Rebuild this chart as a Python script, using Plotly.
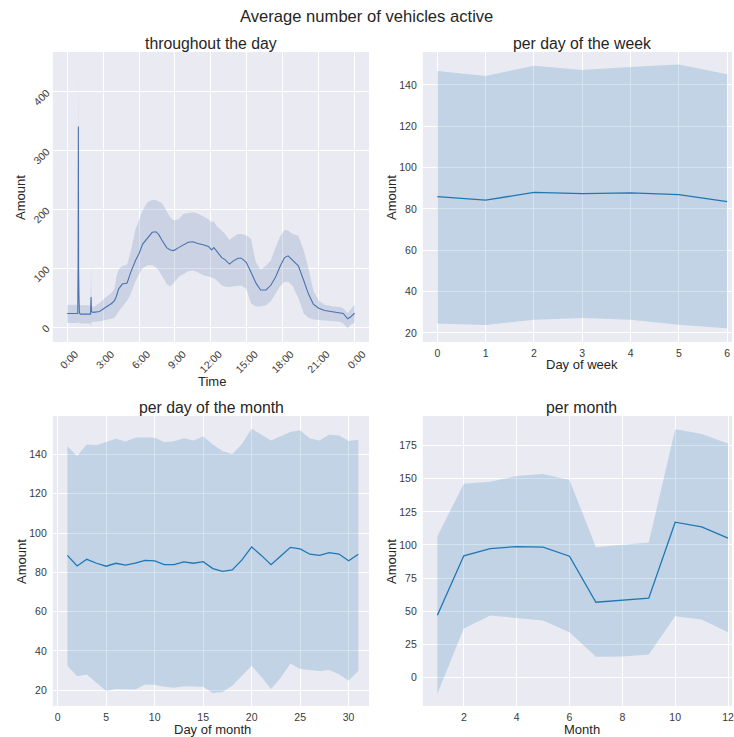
import plotly.graph_objects as go

# ---------------- data ----------------
# throughout the day (hours since midnight)
day_hours = [0.00, 0.50, 0.88, 0.91, 0.93, 0.95, 0.98, 1.02, 1.10, 1.50, 1.95, 1.99, 2.03, 2.20,
             2.70, 3.25, 3.70, 3.95, 4.10, 4.30, 4.60, 5.00, 5.30, 5.70, 6.00, 6.30, 6.70, 7.10,
             7.40, 7.65, 7.90, 8.30, 8.60, 8.90, 9.30, 9.70, 10.10, 10.50, 10.90, 11.35, 11.80,
             12.05, 12.25, 12.45, 12.90, 13.15, 13.55, 13.85, 14.25, 14.55, 14.95, 15.35, 15.75,
             16.15, 16.60, 17.00, 17.40, 17.80, 18.15, 18.45, 18.80, 19.30, 19.75, 20.15, 20.55,
             21.00, 21.50, 22.20, 22.75, 23.05, 23.42, 23.65, 24.00]
day_mean = [23, 23, 23, 120, 341, 100, 50, 24, 22, 21.5, 22, 51, 26, 25,
            26.5, 34, 40, 45, 52, 65, 73, 75, 93, 113, 125, 141, 152, 161,
            162, 157, 148, 135, 131, 130, 135, 140, 144, 145, 142, 140, 137,
            131, 135, 130, 118, 115, 107, 112, 117, 117, 110, 93, 75,
            63, 63, 71, 85, 104, 118, 121, 114, 104, 79, 56, 39,
            32, 28, 25.5, 24.5, 23, 14, 17, 23.5]
day_upper = [38, 38, 38, 300, 443, 200, 70, 38, 37, 37, 37, 104, 36, 34,
             41, 51, 58, 66, 85, 98, 104, 106, 128, 166, 183, 198, 212, 216,
             216, 213, 211, 197, 186, 181, 183, 192, 193, 195, 193, 188, 183,
             178, 180, 172, 164, 159, 148, 153, 158, 158, 156, 150, 110,
             98, 104, 113, 135, 155, 165, 164, 158, 155, 130, 99, 62,
             45, 38, 35, 34, 32, 24, 30, 38]
day_lower = [7, 7, 7, 7, 8, 10, 8, 6, 6, 6, 6, -3, 8, 9,
             10, 12, 14, 16, 20, 27, 34, 45, 56, 78, 90, 100, 105, 105,
             101, 96, 86, 73, 69, 75, 85, 90, 95, 96, 93, 88, 86,
             84, 83, 80, 71, 69, 68, 69, 70, 70, 65, 40, 35,
             35, 37, 44, 56, 70, 77, 77, 70, 50, 23, 16, 13,
             12, 11, 10, 9, 6, -3, 4, 7]
day_tickvals = [0, 3, 6, 9, 12, 15, 18, 21, 24]
day_ticktext = ["0:00", "3:00", "6:00", "9:00", "12:00", "15:00", "18:00", "21:00", "0:00"]

# per day of the week
week_days = [0, 1, 2, 3, 4, 5, 6]
week_mean = [85.9, 84.2, 88.0, 87.4, 87.7, 86.9, 83.5]
week_upper = [146.7, 144.3, 149.3, 147.2, 148.7, 149.8, 145.1]
week_lower = [24.6, 23.8, 26.4, 27.2, 26.4, 24.0, 22.2]

# per day of the month
month_days = list(range(1, 32))
mday_mean = [88.6, 83.2, 86.6, 84.6, 83.1, 84.6, 83.7, 84.7, 86.1, 85.8, 83.9, 83.9, 85.3, 84.6,
             85.4, 81.9, 80.5, 81.2, 86.3, 92.9, 88.6, 83.9, 88.3, 92.7, 91.9, 89.2, 88.6, 90.0,
             89.3, 85.9, 89.2]
mday_upper = [144.2, 139.2, 145.1, 144.7, 146.4, 148.0, 146.6, 148.5, 148.6, 148.5, 146.3, 146.8,
              148.3, 147.1, 149.2, 145.1, 141.7, 140.3, 145.4, 153.1, 150.2, 147.1, 149.3, 151.5,
              152.4, 148.1, 147.1, 150.0, 149.7, 146.9, 147.5]
mday_lower = [32.4, 27.0, 28.0, 23.9, 19.5, 20.5, 20.5, 20.3, 22.9, 22.7, 21.7, 21.2, 21.9, 21.7,
              21.7, 18.5, 19.0, 22.2, 27.3, 32.4, 26.8, 20.5, 26.3, 33.6, 30.8, 30.2, 29.7, 30.2,
              28.1, 24.7, 29.8]

# per month
months = list(range(1, 13))
month_mean = [47.0, 91.8, 97.3, 98.8, 98.3, 91.5, 56.8, 58.1, 59.8, 117.2, 113.6, 105.1]
month_upper = [106.6, 146.1, 147.6, 152.1, 153.6, 149.1, 98.3, 99.8, 101.8, 187.3, 183.8, 176.5]
month_lower = [-12.3, 37.0, 46.8, 45.0, 43.0, 34.2, 15.6, 15.8, 17.3, 46.3, 43.7, 34.2]

# ---------------- styling ----------------
W, H = 734, 737
FONT = "Liberation Sans"
TXT = "#262626"
BG = "#EAEAF2"
DEEP_BLUE = "#4C72B0"
TAB_BLUE = "#1f77b4"


def px_x(v):
    return v / W


def px_y(v):
    return 1 - v / H


fig = go.Figure()


def add_band(x, mean, up, lo, color, fillcolor, xa, ya, lw):
    fig.add_trace(go.Scatter(x=list(x) + list(x)[::-1], y=list(up) + list(lo)[::-1],
                             fill="toself", fillcolor=fillcolor, line=dict(width=0),
                             mode="lines", hoverinfo="skip", showlegend=False,
                             xaxis=xa, yaxis=ya))
    fig.add_trace(go.Scatter(x=x, y=mean, mode="lines", line=dict(color=color, width=lw),
                             showlegend=False, xaxis=xa, yaxis=ya))


add_band(day_hours, day_mean, day_upper, day_lower, DEEP_BLUE, "rgba(76,114,176,0.2)", "x", "y", 1.1)
add_band(week_days, week_mean, week_upper, week_lower, TAB_BLUE, "rgba(31,119,180,0.2)", "x2", "y2", 1.3)
add_band(month_days, mday_mean, mday_upper, mday_lower, TAB_BLUE, "rgba(31,119,180,0.2)", "x3", "y3", 1.3)
add_band(months, month_mean, month_upper, month_lower, TAB_BLUE, "rgba(31,119,180,0.2)", "x4", "y4", 1.3)

tickfont = dict(family=FONT, size=10.5, color="#3a3a3a")
base = dict(showgrid=True, gridcolor="white", gridwidth=1, zeroline=False, showline=False,
            ticks="outside", tickcolor="rgba(0,0,0,0)", tickfont=tickfont,
            ticklabeloverflow="allow")
xcommon = dict(base, ticklen=1)
ycommon = dict(base, ticklen=3)

xl, xr = px_x(53), px_x(370)
xl2, xr2 = px_x(424), 1.0
yt1, yb1 = px_y(52), px_y(342)
yt2, yb2 = px_y(416), px_y(706)

fig.update_layout(
    width=W, height=H, margin=dict(l=0, r=0, t=0, b=0),
    paper_bgcolor="white", plot_bgcolor=BG, showlegend=False,
    font=dict(family=FONT, color=TXT),
    xaxis=dict(domain=[xl, xr], anchor="y", range=[-1.2, 25.2], tickvals=day_tickvals,
               ticktext=day_ticktext, tickangle=-45, ticklabelshift=8, **xcommon),
    yaxis=dict(domain=[yb1, yt1], anchor="x", range=[-25.4, 467.4], dtick=100, tickangle=-45,
               **ycommon),
    xaxis2=dict(domain=[xl2, xr2], anchor="y2", range=[-0.3, 6.1], dtick=1, **xcommon),
    yaxis2=dict(domain=[yb1, yt1], anchor="x2", range=[15.6, 155.9], dtick=20, **ycommon),
    xaxis3=dict(domain=[xl, xr], anchor="y3", range=[-0.5, 32.1], dtick=5, **xcommon),
    yaxis3=dict(domain=[yb2, yt2], anchor="x3", range=[11.9, 159.6], dtick=20, **ycommon),
    xaxis4=dict(domain=[xl2, xr2], anchor="y4", range=[0.45, 12.15], dtick=2, **xcommon),
    yaxis4=dict(domain=[yb2, yt2], anchor="x4", range=[-21.5, 197.3], dtick=25, **ycommon),
)

ann = []


def text(x, y, s, size, angle=0):
    ann.append(dict(x=px_x(x), y=px_y(y), xref="paper", yref="paper", text=s, showarrow=False,
                    xanchor="center", yanchor="middle", textangle=angle,
                    font=dict(family=FONT, size=size, color=TXT)))


text(367, 16, "Average number of vehicles active", 16.6)
text(212, 44, "throughout the day", 15.8)
text(583.5, 44, "per day of the week", 15.8)
text(212, 407, "per day of the month", 15.8)
text(583.5, 407, "per month", 15.8)
text(213, 381, "Time", 13)
text(584, 364, "Day of week", 13)
text(213, 729, "Day of month", 13)
text(584, 729, "Month", 13)
text(20, 197, "Amount", 13, -90)
text(392, 197, "Amount", 13, -90)
text(21, 561, "Amount", 13, -90)
text(392, 561, "Amount", 13, -90)

fig.update_layout(annotations=ann)
fig.write_html("out.html")
